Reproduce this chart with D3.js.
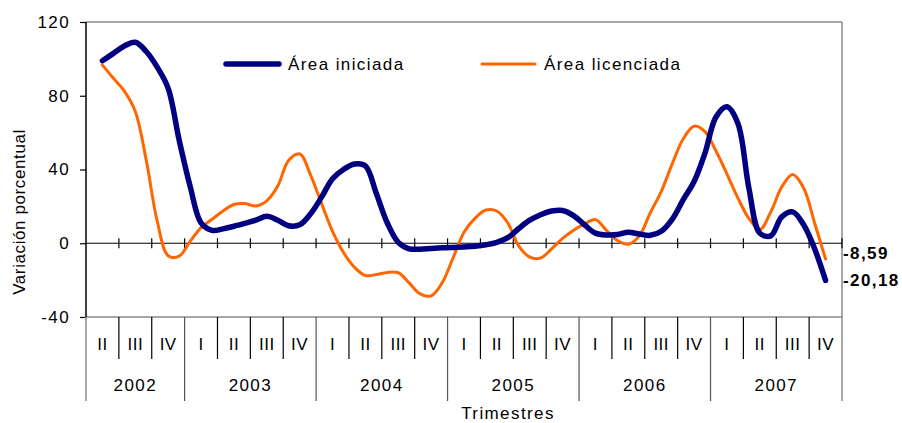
<!DOCTYPE html>
<html>
<head>
<meta charset="utf-8">
<script src="https://cdn.jsdelivr.net/npm/d3@7"></script>
<style>
  html, body { margin: 0; padding: 0; background: #fff; }
  svg { display: block; font-family: "Liberation Sans", Arial, sans-serif; }
</style>
</head>
<body>
<svg id="chart" width="902" height="423"></svg>
<script>
// ---- Data (monthly-step readings, 2002 II .. 2007 IV) ----
const years = ["2002", "2003", "2004", "2005", "2006", "2007"];
const quarterLabels = ["II","III","IV","I","II","III","IV","I","II","III","IV","I","II","III","IV","I","II","III","IV","I","II","III","IV"];
const quartersPerYear = [3, 4, 4, 4, 4, 4];
const yTicks = [-40, 0, 40, 80, 120];

const areaIniciada = [
  99, 103, 107, 109, 104, 95.5, 84, 56, 31, 11,
  7, 7.8, 9.2, 10.8, 12.5, 14.6, 12.5, 9.5, 10, 16,
  25, 35, 40, 43, 42, 27, 11, 0.5, -3, -3.2,
  -2.8, -2.5, -2.3, -2, -1.6, -0.8, 0.5, 3, 8, 12.5,
  15.5, 17.5, 17.8, 15, 10, 5.5, 4.5, 4.7, 6, 5,
  4.3, 6.5, 13, 23.5, 33.5, 49, 68.5, 74, 65, 30,
  5.5, 4, 14.3, 17, 10, -3, -20.18
];
const areaLicenciada = [
  96.6, 89.5, 82.5, 71.5, 45, 12, -6.8, -7, 1, 8.5,
  13, 17.5, 21, 21.5, 20.2, 23, 31, 45, 48.5, 37,
  21.5, 6.5, -5, -13, -17.5, -17, -15.8, -16, -21.5, -27.5,
  -28.5, -21.5, -8, 6, 13.5, 18, 17.5, 11, -1.5, -7.5,
  -8, -3, 2.6, 7, 10.5, 12.8, 7, 1.5, -0.5, 4,
  16.5, 28, 43, 56.5, 63.5, 60.5, 50, 37.5, 24.5, 13.5,
  7.4, 17, 30.5, 37.3, 30, 11, -8.59
];
const seriesNames = ["Área iniciada", "Área licenciada"];
const seriesColors = ["#000080", "#FF6600"];
const endLabels = ["-20,18", "-8,59"];

// ---- Layout ----
const svg = d3.select("#chart");
const L = 86, R = 842, T = 22, B = 317;
const nQ = quarterLabels.length;
const x = d3.scaleLinear().domain([0, nQ]).range([L, R]);
const y = d3.scaleLinear().domain([-40, 120]).range([B, T]);
const FONT = 17, LS = "1.4px";

// frame (top / right / bottom gray)
svg.append("line").attr("x1", L).attr("x2", R).attr("y1", T).attr("y2", T).attr("stroke", "#8a8a8a").attr("stroke-width", 1.5);
svg.append("line").attr("x1", R).attr("x2", R).attr("y1", T).attr("y2", 401).attr("stroke", "#8a8a8a").attr("stroke-width", 1.5);
svg.append("line").attr("x1", L).attr("x2", R).attr("y1", B).attr("y2", B).attr("stroke", "#8a8a8a").attr("stroke-width", 1.5);

// left y axis
const yAxis = d3.axisLeft(y).tickValues(yTicks).tickSize(6).tickPadding(10).tickFormat(d => String(d));
const ya = svg.append("g").attr("transform", `translate(${L},0)`).call(yAxis);
ya.select(".domain").attr("stroke", "#000").attr("stroke-width", 1.5);
ya.selectAll(".tick line").attr("stroke", "#000").attr("stroke-width", 1.2);
ya.selectAll(".tick text").attr("font-size", FONT).attr("letter-spacing", LS).attr("fill", "#000")
  .attr("font-family", "Liberation Sans, Arial, sans-serif");
ya.select(".domain").attr("d", `M0,${T}V${B}`);

// zero line with quarter ticks
svg.append("line").attr("x1", L).attr("x2", R).attr("y1", y(0)).attr("y2", y(0)).attr("stroke", "#000").attr("stroke-width", 1.2);
svg.selectAll(".ztick").data(d3.range(1, nQ + 1)).enter().append("line")
  .attr("x1", d => x(d)).attr("x2", d => x(d))
  .attr("y1", y(0) - 5).attr("y2", y(0) + 5)
  .attr("stroke", "#000").attr("stroke-width", 1.2);

// category axis: quarter separators and labels
const yearStarts = [0];
quartersPerYear.forEach((q, i) => yearStarts.push(yearStarts[i] + q));
svg.selectAll(".qsep").data(d3.range(1, nQ)).enter().append("line")
  .attr("x1", d => x(d)).attr("x2", d => x(d))
  .attr("y1", B).attr("y2", d => yearStarts.includes(d) ? 401 : 359)
  .attr("stroke", d => yearStarts.includes(d) ? "#555" : "#000").attr("stroke-width", 1.2);
svg.append("line").attr("x1", L).attr("x2", L).attr("y1", B).attr("y2", 401).attr("stroke", "#8a8a8a").attr("stroke-width", 1.5);

svg.selectAll(".qlab").data(quarterLabels).enter().append("text")
  .attr("x", (d, i) => x(i + 0.5)).attr("y", 350)
  .attr("text-anchor", "middle").attr("font-size", FONT).attr("letter-spacing", "0.5px").attr("fill", "#000")
  .text(d => d);

svg.selectAll(".ylab").data(years).enter().append("text")
  .attr("x", (d, i) => x((yearStarts[i] + yearStarts[i + 1]) / 2)).attr("y", 391)
  .attr("text-anchor", "middle").attr("font-size", FONT).attr("letter-spacing", LS).attr("fill", "#000")
  .text(d => d);

svg.append("text").attr("x", 508).attr("y", 419).attr("text-anchor", "middle")
  .attr("font-size", FONT).attr("letter-spacing", LS).attr("fill", "#000").text("Trimestres");

svg.append("text").attr("transform", `translate(25,212) rotate(-90)`).attr("text-anchor", "middle")
  .attr("font-size", FONT).attr("letter-spacing", "0.6px").attr("fill", "#000").text("Variación porcentual");

// lines
const line = d3.line()
  .x((d, i) => x(0.5 + i / 3))
  .y(d => y(d))
  .curve(d3.curveCatmullRom.alpha(0.5));

svg.append("path").datum(areaLicenciada).attr("d", line)
  .attr("fill", "none").attr("stroke", seriesColors[1]).attr("stroke-width", 3).attr("stroke-linejoin", "round").attr("stroke-linecap", "round");
svg.append("path").datum(areaIniciada).attr("d", line)
  .attr("fill", "none").attr("stroke", seriesColors[0]).attr("stroke-width", 5.5).attr("stroke-linejoin", "round").attr("stroke-linecap", "round");

// legend
const legendX = [226, 482];
seriesNames.forEach((name, i) => {
  svg.append("line").attr("x1", legendX[i]).attr("x2", legendX[i] + 53).attr("y1", 64).attr("y2", 64)
    .attr("stroke", seriesColors[i]).attr("stroke-width", i === 0 ? 5.5 : 3).attr("stroke-linecap", "round");
  svg.append("text").attr("x", legendX[i] + 62).attr("y", 70)
    .attr("font-size", FONT).attr("letter-spacing", LS).attr("fill", "#000").text(name);
});

// end labels (bold, right side)
const lastI = areaIniciada[areaIniciada.length - 1];
const lastL = areaLicenciada[areaLicenciada.length - 1];
const yLow = y(Math.min(lastI, lastL)) + 6;
const yHigh = Math.min(y(Math.max(lastI, lastL)) + 6, yLow - 27);
[[endLabels[0], yLow], [endLabels[1], yHigh]].forEach(([t, yy]) => {
  svg.append("text").attr("x", 843).attr("y", yy)
    .attr("font-size", FONT).attr("font-weight", "bold").attr("letter-spacing", LS).attr("fill", "#000").text(t);
});
</script>
</body>
</html>
